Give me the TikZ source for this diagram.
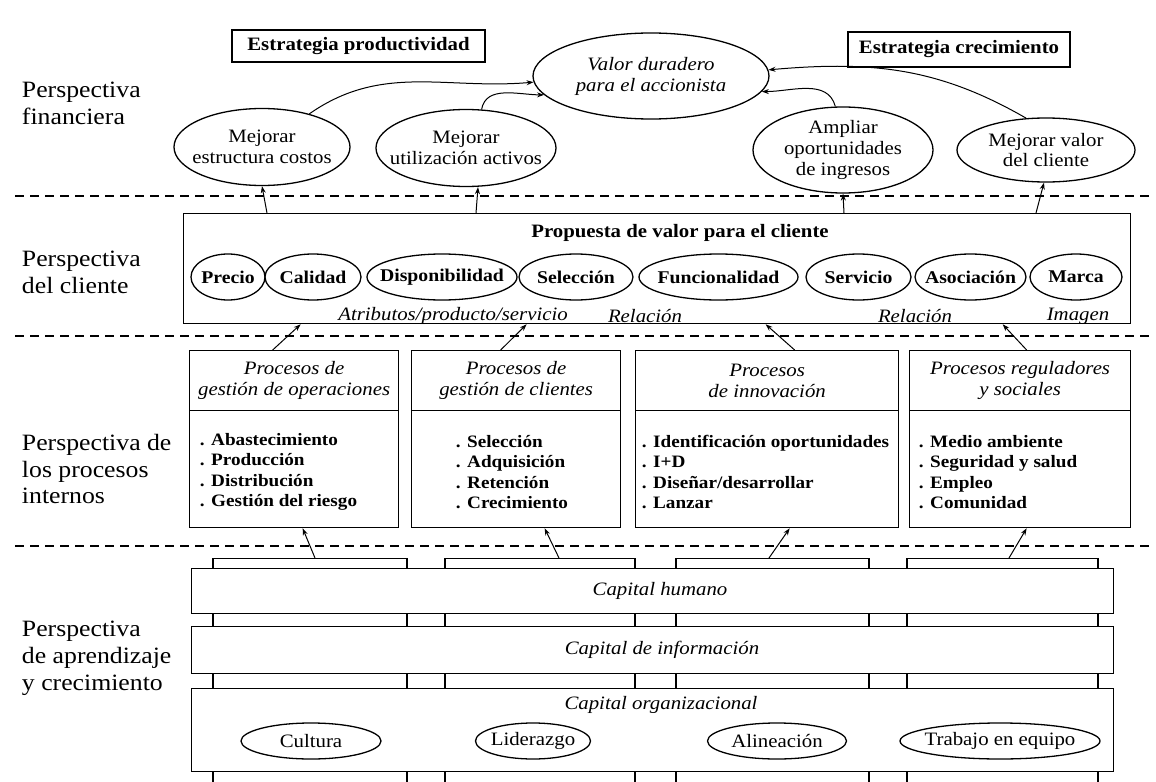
\documentclass[tikz,border=0pt]{standalone}
\usepackage{fontspec}
\setmainfont{Liberation Serif}[FakeStretch=1.1]
\usetikzlibrary{shapes.geometric,arrows.meta,calc}

\newcommand{\basefont}{\fontsize{19}{21}\selectfont}

\begin{document}
\begin{tikzpicture}[x=1bp,y=-1bp,
  font=\basefont,
  line width=1.3bp,
  every label/.style={align=center, inner sep=0pt},
  frame/.style={draw, rectangle, inner sep=0pt, fill=white},
  oval/.style={draw, ellipse, inner sep=0pt, fill=white},
  tip/.style={-{Stealth[length=7bp,width=5bp]}, line width=1bp},
  divider/.style={dash pattern=on 9bp off 6bp, line width=1.2bp},
  persp/.style={anchor=west, align=left, font=\fontsize{23.5}{27}\selectfont},
  bold/.style={font=\basefont\bfseries},
  ital/.style={font=\basefont\itshape, align=center},
  post/.style={draw, rectangle, inner sep=0pt, minimum height=224bp, anchor=north},
  capbar/.style={draw, rectangle, inner sep=0pt, fill=white, minimum width=922bp, anchor=north west},
  itemlist/.style={anchor=west, align=left, font=\fontsize{17.5}{20.5}\selectfont\bfseries}]

\useasboundingbox[fill=white] (0,0) rectangle (1156,782);

% ---------- perspective labels ----------
\node[persp] (lfin) at (18,103) {Perspectiva\\financiera};
\node[persp] (lcli) at (18,272) {Perspectiva\\del cliente};
\node[persp] (lpro) at (18,469) {Perspectiva de\\los procesos\\internos};
\node[persp] (lapr) at (18,658) {Perspectiva\\de aprendizaje\\y crecimiento};

% ---------- layer separators ----------
\draw[divider] (15,196) -- (1150,196);
\draw[divider] (15,336) -- (1150,336);
\draw[divider] (15,546) -- (1150,546);

% ---------- financial perspective ----------
\node[frame, bold, minimum width=253bp, minimum height=32bp] (sprod) at (358.5,46) {Estrategia productividad};
\node[frame, bold, minimum width=222bp, minimum height=35bp] (screc) at (959,49.5) {Estrategia crecimiento};
\node[oval, minimum width=236bp, minimum height=86bp,
  label={[font=\basefont\itshape]center:{Valor duradero\\para el accionista}}] (valor) at (651,76) {};
\node[oval, minimum width=176bp, minimum height=77bp,
  label={center:{Mejorar\\estructura costos}}] (fcost) at (262,147) {};
\node[oval, minimum width=180bp, minimum height=77bp,
  label={center:{Mejorar\\utilización activos}}] (fact) at (466,148) {};
\node[oval, minimum width=180bp, minimum height=86bp,
  label={center:{Ampliar\\oportunidades\\de ingresos}}] (fing) at (843,150) {};
\node[oval, minimum width=178bp, minimum height=64bp,
  label={center:{Mejorar valor\\del cliente}}] (fval) at (1046,150) {};

\draw[tip] (fcost.35) to[out=35,in=185] (valor.183);
\draw[tip] (fact.68) to[out=80,in=180] (valor.190);
\draw[tip] (fing.100) to[out=105,in=0] (valor.-8);
\draw[tip] (fval.122) to[out=150,in=5] (valor.3);

% ---------- customer perspective ----------
\node[frame, minimum width=947bp, minimum height=110bp, anchor=north west] (cust) at (183,213) {};
\node[bold] (ctitle) at (680,233) {Propuesta de valor para el cliente};
\foreach \nm/\cx/\w/\txt in {
    cprecio/228/74/Precio,
    ccalidad/313/96/Calidad,
    cdisp/442/150/Disponibilidad,
    csel/576/114/Selección,
    cfunc/718.5/159/Funcionalidad,
    cserv/858.5/105/Servicio,
    casoc/970.5/111/Asociación,
    cmarca/1076/92/Marca}{
  \node[oval, minimum width=\w bp, minimum height=46bp,
    label={[font=\fontsize{18}{20.5}\selectfont\bfseries]center:\txt}] (\nm) at (\cx,277) {};
}
\node[ital] (attr) at (453,316) {Atributos/producto/servicio};
\node[ital] (rel1) at (645,316) {Relación};
\node[ital] (rel2) at (915,316) {Relación};
\node[ital] (imag) at (1078,316) {Imagen};

\draw[tip] ($(cust.north -| fcost.south)+(5,0)$) -- (fcost.south);
\draw[tip] ($(cust.north -| fact.south)+(10,0)$) -- ($(fact.south)+(12,0)$);
\draw[tip] ($(cust.north -| fing.south)+(1,0)$) -- (fing.south);
\draw[tip] ($(cust.north -| fval.south)+(-10,0)$) -- ($(fval.south)+(-2,0)$);

% ---------- internal processes ----------
\node[frame, minimum width=209bp, minimum height=60bp, anchor=north west] (p1h) at (189,350) {};
\node[frame, minimum width=209bp, minimum height=117bp, anchor=north west] (p1b) at (189,410) {};
\node[frame, minimum width=209bp, minimum height=60bp, anchor=north west] (p2h) at (411,350) {};
\node[frame, minimum width=209bp, minimum height=117bp, anchor=north west] (p2b) at (411,410) {};
\node[frame, minimum width=263bp, minimum height=60bp, anchor=north west] (p3h) at (635,350) {};
\node[frame, minimum width=263bp, minimum height=117bp, anchor=north west] (p3b) at (635,410) {};
\node[frame, minimum width=221bp, minimum height=60bp, anchor=north west] (p4h) at (909,350) {};
\node[frame, minimum width=221bp, minimum height=117bp, anchor=north west] (p4b) at (909,410) {};

\node[ital] (p1t) at (p1h.center) {Procesos de\\gestión de operaciones};
\node[ital] (p2t) at (p2h.center) {Procesos de\\gestión de clientes};
\node[ital] (p3t) at (p3h.center) {Procesos\\de innovación};
\node[ital] (p4t) at (p4h.center) {Procesos reguladores\\y sociales};

\node[itemlist] (p1l) at (196,472) {. Abastecimiento\\. Producción\\. Distribución\\. Gestión del riesgo};
\node[itemlist] (p2l) at (452,472) {. Selección\\. Adquisición\\. Retención\\. Crecimiento};
\node[itemlist] (p3l) at (638,472) {. Identificación oportunidades\\. I+D\\. Diseñar/desarrollar\\. Lanzar};
\node[itemlist] (p4l) at (915,472) {. Medio ambiente\\. Seguridad y salud\\. Empleo\\. Comunidad};

\draw[tip] ($(p1h.north)+(-21.5,0)$) -- ($(cust.south -| p1h.north)+(6.5,0)$);
\draw[tip] ($(p2h.north)+(-15.5,0)$) -- ($(cust.south -| p2h.north)+(10.5,0)$);
\draw[tip] ($(p3h.north)+(27.5,0)$) -- ($(cust.south -| p3h.north)+(-1.5,0)$);
\draw[tip] ($(p4h.north)+(6.5,0)$) -- ($(cust.south -| p4h.north)+(-17.5,0)$);

% ---------- learning and growth ----------
\node[post, minimum width=194bp] (col1) at (310,558) {};
\node[post, minimum width=190bp] (col2) at (540,558) {};
\node[post, minimum width=193bp] (col3) at (772.5,558) {};
\node[post, minimum width=191bp] (col4) at (1002.5,558) {};

\node[capbar, minimum height=45bp] (chum) at (191,568) {};
\node[capbar, minimum height=47bp] (cinf) at (191,626) {};
\node[capbar, minimum height=83bp] (corg) at (191,688) {};

\node[ital] (chumt) at (660,591) {Capital humano};
\node[ital] (cinft) at (662,650) {Capital de información};
\node[ital] (corgt) at (661,705) {Capital organizacional};

\node[oval, minimum width=140bp, minimum height=36bp, label={center:Cultura}] (ocult) at (311,741) {};
\node[oval, minimum width=115bp, minimum height=36bp, label={center:Liderazgo}] (olid) at (533,741) {};
\node[oval, minimum width=139bp, minimum height=36bp, label={center:Alineación}] (oalin) at (777,741) {};
\node[oval, minimum width=200bp, minimum height=36bp, label={center:Trabajo en equipo}] (otrab) at (1000,741) {};

\draw[tip] ($(col1.north)+(5,0)$) -- ($(p1b.south)+(8.5,0)$);
\draw[tip] ($(col2.north)+(19,0)$) -- ($(p2b.south)+(28.5,0)$);
\draw[tip] ($(col3.north)+(-3.5,0)$) -- ($(p3b.south)+(22.5,0)$);
\draw[tip] ($(col4.north)+(6.5,0)$) -- ($(p4b.south)+(6.5,0)$);

\end{tikzpicture}
\end{document}
